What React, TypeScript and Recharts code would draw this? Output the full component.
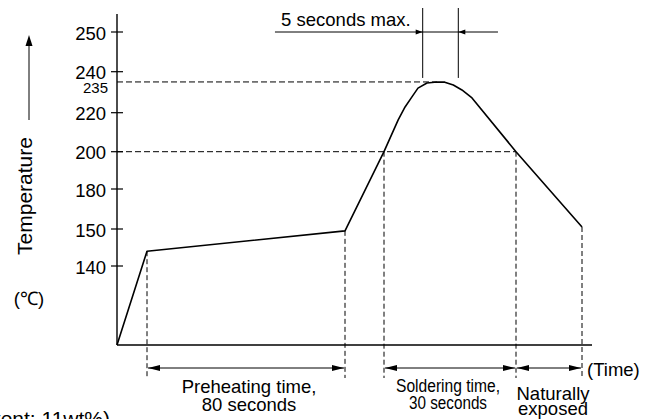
import React from "react";
import { LineChart, Line, XAxis, YAxis, ReferenceLine } from "recharts";

const FONT = '"Liberation Sans", Arial, Helvetica, sans-serif';

// reflow profile: time (s) and temperature (°C)
const TIMES = [0, 20, 100, 115, 118.3, 119.9, 121.5, 122.9, 124.6, 126.0, 127.1, 128.3, 130.0, 132.8, 145, 160];
const TEMPS = [25, 144, 149.5, 200, 216.3, 222.8, 227.7, 232.0, 234.5, 235, 234.9, 233.5, 231.1, 227.2, 200, 151.5];

const TEMP_TICKS = [140, 150, 180, 200, 220, 235, 240, 250];
const PEAK_TEMP = 235;
const PEAK_TIME = 126;
const SOLDER_TEMP = 200;
const SOLDER_END = 145;
const DROP_TIMES = [20, 100, 115, 145, 160];

const SPAN_FROM = [20, 115, 145];
const SPAN_TO = [100, 145, 160];
const SPAN_LABELS = [
  ["Preheating time,", "80 seconds"],
  ["Soldering time,", "30 seconds"],
  ["Naturally", "exposed"],
];

const PEAK_WINDOW = [124, 129];
const PEAK_WINDOW_LABEL = "5 seconds max.";
const WINDOW_LINE_FROM = 71.7;
const WINDOW_LINE_TO = 140;
const WINDOW_LINE_TEMP = 250;

// the drawing is a schematic: axes are not linear, so each axis gets a
// piecewise scale (value breaks -> relative spacing)
const TEMP_BREAKS = [25, 140, 150, 180, 200, 220, 240, 250, 254.5];
const TEMP_SPACING = [0, 79, 116, 156, 193.3, 232.3, 273.3, 313, 331];
const TIME_BREAKS = [0, 20, 100, 115, 124, 129, 145, 160, 162.3];
const TIME_SPACING = [0, 30, 228, 267, 305.7, 341.3, 399, 465, 475];

function piecewiseScale(breaks: number[], spacing: number[]): any {
  let dom: number[] = [breaks[0], breaks[breaks.length - 1]];
  let rng: number[] = [0, 1];
  const total = spacing[spacing.length - 1];
  const unit = (v: number) => {
    let i = 0;
    while (i < breaks.length - 2 && v > breaks[i + 1]) i++;
    const f = (v - breaks[i]) / (breaks[i + 1] - breaks[i]);
    return (spacing[i] + f * (spacing[i + 1] - spacing[i])) / total;
  };
  const s: any = (v: number) => rng[0] + unit(v) * (rng[rng.length - 1] - rng[0]);
  s.domain = (d?: number[]) => {
    if (d === undefined) return dom;
    dom = [...d];
    return s;
  };
  s.range = (r?: number[]) => {
    if (r === undefined) return rng;
    rng = [...r];
    return s;
  };
  s.copy = () => piecewiseScale(breaks, spacing).domain(dom).range(rng);
  s.ticks = () => breaks.slice();
  s.tickFormat = () => (v: number) => String(v);
  s.nice = () => s;
  s.clamp = () => s;
  s.invert = (px: number) => {
    const u = ((px - rng[0]) / (rng[rng.length - 1] - rng[0])) * total;
    let i = 0;
    while (i < spacing.length - 2 && u > spacing[i + 1]) i++;
    const f = (u - spacing[i]) / (spacing[i + 1] - spacing[i]);
    return breaks[i] + f * (breaks[i + 1] - breaks[i]);
  };
  return s;
}

const tempScale = piecewiseScale(TEMP_BREAKS, TEMP_SPACING);
const timeScale = piecewiseScale(TIME_BREAKS, TIME_SPACING);

const data = TIMES.map((t, i) => ({ t, temp: TEMPS[i] }));
const tempAt = (t: number) => TEMPS[TIMES.indexOf(t)];

const SPAN_STYLE = [
  { fontSize: 18.5, dx: 3, base: [25, 43], len: null as number[] | null },
  { fontSize: 18, dx: -2, base: [24, 41], len: [104, 78] },
  { fontSize: 18.5, dx: 4, base: [32, 47], len: null as number[] | null },
];

const TempTick = (props: any) => {
  const { x, y, payload } = props;
  if (payload.value === PEAK_TEMP) {
    return (
      <text x={x + 2} y={y + 11.5} textAnchor="end" fontSize={15} fontFamily={FONT} fill="#000">
        {payload.value}
      </text>
    );
  }
  return (
    <g>
      <line x1={x + 5} x2={x + 17} y1={y} y2={y} stroke="#000" strokeWidth={1.2} />
      <text x={x} y={y + 7.5} textAnchor="end" fontSize={18.5} fontFamily={FONT} fill="#000">
        {payload.value}
      </text>
    </g>
  );
};

const DropShape = (p: any) => {
  const top = Math.min(p.y1, p.y2);
  const bottom = Math.max(p.y1, p.y2) + 33;
  return <line x1={p.x1} x2={p.x1} y1={top} y2={bottom} stroke="#000" strokeWidth={1} strokeDasharray="5 3" />;
};

const spanShape = (lines: string[], st: (typeof SPAN_STYLE)[number]) => (p: any) => {
  const y = p.y1 + 23;
  const a = Math.min(p.x1, p.x2) + 1;
  const b = Math.max(p.x1, p.x2) - 1;
  const cx = (a + b) / 2 + st.dx;
  return (
    <g>
      <line x1={a} x2={b} y1={y} y2={y} stroke="#000" strokeWidth={1} />
      <polygon points={`${a},${y} ${a + 12},${y - 3} ${a + 12},${y + 3}`} fill="#000" />
      <polygon points={`${b},${y} ${b - 12},${y - 3} ${b - 12},${y + 3}`} fill="#000" />
      {lines.map((s, i) => (
        <text
          key={i}
          x={cx}
          y={y + st.base[i]}
          textAnchor="middle"
          fontSize={st.fontSize}
          fontFamily={FONT}
          fill="#000"
          textLength={st.len ? st.len[i] : undefined}
          lengthAdjust={st.len ? "spacingAndGlyphs" : undefined}
        >
          {s}
        </text>
      ))}
    </g>
  );
};

const windowMarker = (dir: number, label?: string) => (p: any) => {
  const top = Math.min(p.y1, p.y2);
  const bottom = Math.max(p.y1, p.y2);
  const x = p.x1;
  return (
    <g>
      <line x1={x} x2={x} y1={top - 24} y2={bottom - 4} stroke="#000" strokeWidth={1} />
      <polygon points={`${x},${top} ${x - dir * 7},${top - 2.5} ${x - dir * 7},${top + 2.5}`} fill="#000" />
      {label ? (
        <text x={x - 12} y={top - 6} textAnchor="end" fontSize={18.5} fontFamily={FONT} fill="#000">
          {label}
        </text>
      ) : null}
    </g>
  );
};

export default function App() {
  return (
    <div style={{ position: "absolute", left: 0, top: 0, width: 654, height: 419, background: "#fff", fontFamily: FONT }}>
      <LineChart width={654} height={419} data={data} margin={{ top: 14, right: 62, bottom: 44, left: 57 }}>
        <XAxis
          dataKey="t"
          type="number"
          scale={timeScale}
          domain={[0, 162.3]}
          height={30}
          tick={false}
          tickLine={false}
          axisLine={{ stroke: "#000", strokeWidth: 1.4 }}
        />
        <YAxis
          type="number"
          scale={tempScale}
          domain={[25, 254.5]}
          ticks={TEMP_TICKS}
          interval={0}
          width={60}
          tickSize={6}
          tickMargin={5}
          tickLine={false}
          tick={TempTick}
          axisLine={{ stroke: "#000", strokeWidth: 1.4 }}
        />

        <ReferenceLine
          segment={[{ x: 0, y: PEAK_TEMP }, { x: PEAK_TIME, y: PEAK_TEMP }]}
          stroke="#000"
          strokeWidth={1}
          strokeDasharray="6 3"
          ifOverflow="visible"
        />
        <ReferenceLine
          segment={[{ x: 0, y: SOLDER_TEMP }, { x: SOLDER_END, y: SOLDER_TEMP }]}
          stroke="#000"
          strokeWidth={1}
          strokeDasharray="6 3"
          ifOverflow="visible"
        />
        {DROP_TIMES.map((t) => (
          <ReferenceLine
            key={`drop-${t}`}
            segment={[{ x: t, y: tempAt(t) }, { x: t, y: TEMP_BREAKS[0] }]}
            shape={DropShape}
            ifOverflow="visible"
          />
        ))}
        {SPAN_FROM.map((from, i) => (
          <ReferenceLine
            key={`span-${i}`}
            segment={[{ x: from, y: TEMP_BREAKS[0] }, { x: SPAN_TO[i], y: TEMP_BREAKS[0] }]}
            shape={spanShape(SPAN_LABELS[i], SPAN_STYLE[i])}
            ifOverflow="visible"
          />
        ))}

        <ReferenceLine
          segment={[{ x: WINDOW_LINE_FROM, y: WINDOW_LINE_TEMP }, { x: WINDOW_LINE_TO, y: WINDOW_LINE_TEMP }]}
          stroke="#000"
          strokeWidth={1}
          ifOverflow="visible"
        />
        <ReferenceLine
          segment={[{ x: PEAK_WINDOW[0], y: PEAK_TEMP }, { x: PEAK_WINDOW[0], y: WINDOW_LINE_TEMP }]}
          shape={windowMarker(1, PEAK_WINDOW_LABEL)}
          ifOverflow="visible"
        />
        <ReferenceLine
          segment={[{ x: PEAK_WINDOW[1], y: PEAK_TEMP }, { x: PEAK_WINDOW[1], y: WINDOW_LINE_TEMP }]}
          shape={windowMarker(-1)}
          ifOverflow="visible"
        />

        <Line
          type="linear"
          dataKey="temp"
          stroke="#000"
          strokeWidth={1.6}
          strokeLinejoin="round"
          dot={false}
          activeDot={false}
          isAnimationActive={false}
        />

        {/* axis titles and notes */}
        <line x1={29} x2={29} y1={120} y2={44} stroke="#000" strokeWidth={1} />
        <polygon points="29,35 25.5,46 32.5,46" fill="#000" />
        <text
          x={32}
          y={196}
          transform="rotate(-90 32 196)"
          textAnchor="middle"
          fontSize={21}
          fontFamily={FONT}
          fill="#000"
        >
          Temperature
        </text>
        <text x={29} y={305} textAnchor="middle" fontSize={18.5} fontFamily={FONT} fill="#000">
          (℃)
        </text>
        <text x={587} y={376} fontSize={18.5} fontFamily={FONT} fill="#000">
          (Time)
        </text>
        <text x={110} y={426} textAnchor="end" fontSize={21} fontFamily={FONT} fill="#000">
          (Flux content: 11wt%)
        </text>
      </LineChart>
    </div>
  );
}
